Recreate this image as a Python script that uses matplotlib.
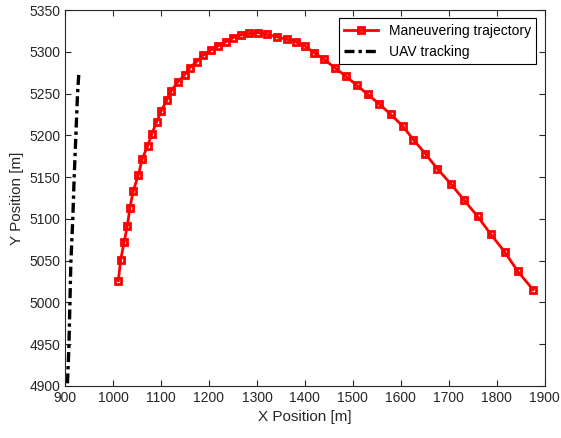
import numpy as np
import matplotlib.pyplot as plt

plt.rcParams['font.family'] = ['Liberation Sans', 'DejaVu Sans']

# Maneuvering trajectory
traj_x = [1011, 1016, 1023, 1030, 1035, 1042, 1053, 1061, 1072, 1081,
          1091, 1100, 1112, 1121, 1135, 1149, 1160, 1174, 1188, 1204,
          1219, 1235, 1251, 1267, 1284, 1302, 1320, 1341, 1362, 1381,
          1400, 1419, 1440, 1462, 1485, 1508, 1531, 1554, 1579, 1604,
          1626, 1651, 1676, 1704, 1731, 1760, 1787, 1817, 1844, 1876]
traj_y = [5026, 5051, 5072, 5092, 5113, 5133, 5153, 5172, 5187, 5202,
          5216, 5229, 5242, 5253, 5264, 5272, 5281, 5288, 5296, 5302,
          5307, 5312, 5317, 5320, 5322, 5323, 5321, 5318, 5315, 5312,
          5307, 5299, 5291, 5281, 5271, 5260, 5249, 5238, 5225, 5211,
          5195, 5178, 5160, 5142, 5123, 5103, 5082, 5060, 5037, 5015]

# UAV tracking
uav_x = [905, 908, 912, 916, 919, 926, 929]
uav_y = [4903, 4947, 5047, 5099, 5150, 5250, 5277]

axis_col = '#262626'

fig = plt.figure(figsize=(5.61, 4.38), dpi=100)
ax = fig.add_axes([0.116, 0.119, 0.855, 0.858])

ax.plot(traj_x, traj_y, color='red', lw=2, marker='s', ms=5,
        mfc='none', mec='red', mew=2, label='Maneuvering trajectory')
ax.plot(uav_x, uav_y, color='black', lw=2.4, dashes=(3, 1.2, 1, 1.2),
        label='UAV tracking')

ax.set_xlim(900, 1900)
ax.set_ylim(4900, 5350)
ax.set_xticks(np.arange(900, 1901, 100))
ax.set_yticks(np.arange(4900, 5351, 50))

ax.tick_params(direction='in', top=True, right=True, labelsize=10,
               colors=axis_col, length=4, width=0.8)
for s in ax.spines.values():
    s.set_color(axis_col)
    s.set_linewidth(0.8)

ax.set_xlabel('X Position [m]', fontsize=11, color=axis_col)
ax.set_ylabel('Y Position [m]', fontsize=11, color=axis_col)

leg = ax.legend(loc='upper right', fontsize=10, fancybox=False,
                framealpha=1, edgecolor='black', borderaxespad=0.6,
                handlelength=2.4)
leg.get_frame().set_linewidth(0.8)

fig.savefig('out.png', dpi=100)
